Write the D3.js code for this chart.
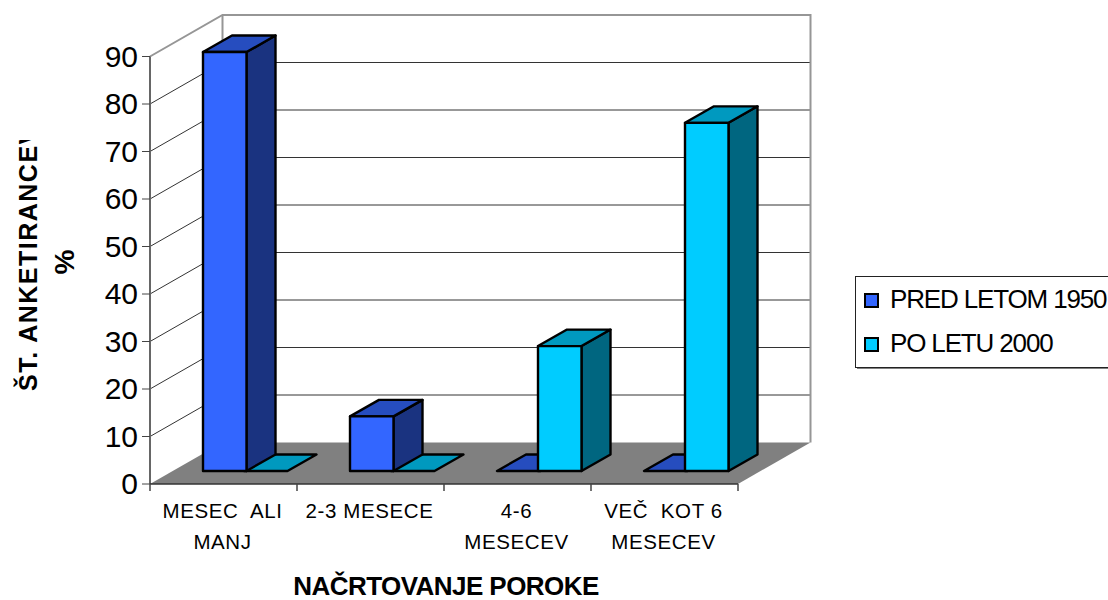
<!DOCTYPE html>
<html><head><meta charset="utf-8">
<style>html,body{margin:0;padding:0;background:#fff}svg{display:block}text{font-family:"Liberation Sans",Arial,sans-serif;fill:#000}</style>
<script src="https://cdn.jsdelivr.net/npm/d3@7/dist/d3.min.js"></script>
</head><body><svg id="c" width="1108" height="600"></svg>
<script>
const categories = ["MESEC ALI MANJ","2-3 MESECE","4-6 MESECEV","VEČ KOT 6 MESECEV"];
const categoryLines = [["MESEC  ALI","MANJ"],["2-3 MESECE"],["4-6","MESECEV"],["VEČ  KOT 6","MESECEV"]];
const seriesNames = ["PRED LETOM 1950","PO LETU 2000"];
const before1950 = [88.2,11.5,0,0];
const after2000 = [0,0,26.3,73.3];
const yTicks = [0,10,20,30,40,50,60,70,80,90];
const seriesColors = [{front:"#3366ff",side:"#1a3380",top:"#264dbf"},{front:"#00ccff",side:"#006680",top:"#0099bf"}];

const svg = d3.select("#c");
const y = d3.scaleLinear().domain([0,90]).range([484,56.5]);
const x0 = d3.scaleBand().domain(categories).range([150,738]);
const x1 = d3.scaleBand().domain(seriesNames).range([53,135]);
const DX = 72.5, DY = -41.5;
const bDX = 29, bDY = -16.5, bBase = 13, bExtra = 2.5, barStroke = 2.4;
const poly = (pts,fill,stroke,sw)=>svg.append("polygon").attr("points",pts.map(p=>p.join(",")).join(" ")).attr("fill",fill).attr("stroke",stroke||"none").attr("stroke-width",sw||0).attr("stroke-linejoin","round");
const line = (a,b,c,d,col,w)=>svg.append("line").attr("x1",a).attr("y1",b).attr("x2",c).attr("y2",d).attr("stroke",col).attr("stroke-width",w);

const L=x0.range()[0], R=x0.range()[1];
yTicks.filter(t=>t>0 && t<90).forEach(t=>{
  const yy=y(t);
  svg.append("polyline").attr("fill","none").attr("stroke","#333").attr("stroke-width",1)
    .attr("points",`${L},${yy} ${L+DX},${yy+DY} ${R+DX},${yy+DY}`);
});
poly([[L,y(0)],[R,y(0)],[R+DX,y(0)+DY],[L+DX,y(0)+DY]],"#808080");
svg.append("polyline").attr("fill","none").attr("stroke","#969696").attr("stroke-width",2)
  .attr("points",`${L},${y(90)} ${L+DX},${y(90)+DY} ${R+DX},${y(90)+DY} ${R+DX},${y(0)+DY}`);
line(L+DX,y(90)+DY,L+DX,y(0)+DY,"#969696",2);
line(L,y(90),L,y(0),"#666",2);
line(L,y(0),R,y(0),"#333",1.5);
yTicks.forEach(t=>line(L-8,y(t),L,y(t),"#444",1));
[...categories.map(c=>x0(c)),R].forEach(v=>line(v,y(0),v,y(0)+7,"#444",1.5));

const seriesValues=[before1950,after2000];
const cells=[];
seriesNames.forEach((s,si)=>categories.forEach((c,ci)=>cells.push({s,c,v:seriesValues[si][ci],col:seriesColors[si]})));
cells.filter(d=>d.v===0).forEach(d=>{
  const xa=x0(d.c)+x1(d.s), xb=xa+x1.bandwidth()+bExtra, yb=y(0)-bBase;
  poly([[xa,yb],[xb,yb],[xb+bDX,yb+bDY],[xa+bDX,yb+bDY]],d.col.top,"#000",barStroke);
});
cells.filter(d=>d.v>0).forEach(d=>{
  const xa=x0(d.c)+x1(d.s), xb=xa+x1.bandwidth()+bExtra, yb=y(0)-bBase, yt=y(d.v)-bBase;
  poly([[xb,yb],[xb+bDX,yb+bDY],[xb+bDX,yt+bDY],[xb,yt]],d.col.side,"#000",barStroke);
  poly([[xa,yt],[xb,yt],[xb+bDX,yt+bDY],[xa+bDX,yt+bDY]],d.col.top,"#000",barStroke);
  poly([[xa,yb],[xb,yb],[xb,yt],[xa,yt]],d.col.front,"#000",barStroke);
});

svg.append("g").selectAll("text").data(yTicks).join("text")
  .attr("x",138).attr("y",d=>y(d)+10).attr("text-anchor","end").attr("font-size",30).text(d=>d);

categoryLines.forEach((ls,i)=>{
  ls.forEach((t,j)=>{
    svg.append("text").attr("x",x0(categories[i])+x0.bandwidth()/2-1).attr("y",518+j*31)
      .attr("text-anchor","middle").attr("font-size",20.5).attr("letter-spacing",0.6).attr("xml:space","preserve").text(t);
  });
});

svg.append("defs").append("clipPath").attr("id","tc").append("rect").attr("x",0).attr("y",140).attr("width",100).attr("height",300);
const tg=svg.append("g").attr("clip-path","url(#tc)");
tg.append("text").attr("transform","translate(37,391) rotate(-90)").attr("font-size",25).attr("font-weight","bold").attr("letter-spacing",1.5).text("ŠT. ANKETIRANCEV");
svg.append("text").attr("transform","translate(74,262) rotate(-90)").attr("text-anchor","middle").attr("font-size",28).attr("font-weight","bold").text("%");
svg.append("text").attr("x",446).attr("y",594.5).attr("text-anchor","middle").attr("font-size",26).attr("font-weight","bold").attr("letter-spacing",-0.55).text("NAČRTOVANJE POROKE");

svg.append("rect").attr("x",857).attr("y",278).attr("width",260).attr("height",91).attr("fill","#808080");
svg.append("rect").attr("x",855.5).attr("y",276.5).attr("width",260).attr("height",91).attr("fill","#fff").attr("stroke","#222").attr("stroke-width",1);
const legendY=d3.scalePoint().domain(seriesNames).range([300,344]);
seriesNames.forEach((s,i)=>{
  svg.append("rect").attr("x",865).attr("y",legendY(s)-6).attr("width",13).attr("height",13).attr("fill",seriesColors[i].front).attr("stroke","#000").attr("stroke-width",2);
  svg.append("text").attr("x",890).attr("y",legendY(s)+8).attr("font-size",26).attr("letter-spacing",-1.15).text(s);
});
</script></body></html>
